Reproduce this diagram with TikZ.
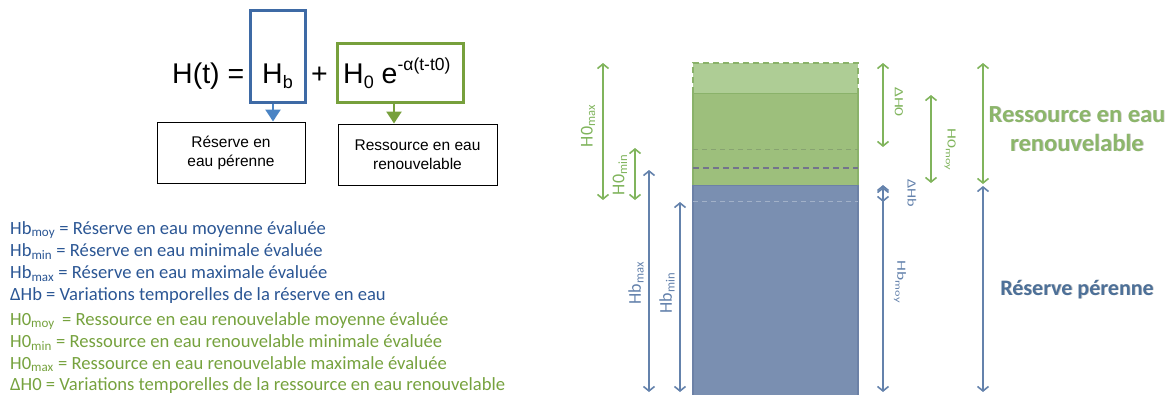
\documentclass[tikz,border=0pt]{standalone}
\usepackage{fontspec}
\setmainfont{Liberation Sans}
\newfontfamily\calfont{Carlito}
\usetikzlibrary{arrows.meta}

\definecolor{boxblue}{HTML}{3E6AA5}
\definecolor{arrblue}{HTML}{4A84C4}
\definecolor{boxgreen}{HTML}{77A03C}
\definecolor{txtblue}{HTML}{2B5694}
\definecolor{txtgreen}{HTML}{76A23E}
\definecolor{barlight}{HTML}{AECD95}
\definecolor{bargreen}{HTML}{9DBF7C}
\definecolor{baredge}{HTML}{8AB26A}
\definecolor{barblue}{HTML}{7A8FB1}
\definecolor{baredgeb}{HTML}{6C81A6}
\definecolor{dimgreen}{HTML}{80B45C}
\definecolor{dimblue}{HTML}{6482AC}
\definecolor{bigblue}{HTML}{4D7098}
\definecolor{biggreen}{HTML}{8CB66A}

\newcommand{\fs}[1]{\fontsize{#1}{#1}\selectfont}

\tikzset{
  formula/.style={inner sep=0pt, anchor=base west, font=\fs{28.5}},
  termbox/.style={draw, line width=3pt, inner sep=0pt},
  labelbox/.style={draw=black, line width=1pt, inner sep=0pt, align=center,
    font=\fontsize{15.5}{19}\selectfont},
  feed/.style={line width=2.5pt, -{Triangle[length=12pt,width=15pt]}},
  legend/.style={anchor=base west, inner sep=0pt, font=\calfont\fs{18.6}},
  dimg/.style={draw=dimgreen, line width=1.6pt, {Straight Barb[length=4.5pt,width=11pt]}-{Straight Barb[length=4.5pt,width=11pt]}},
  dimb/.style={draw=dimblue, line width=1.6pt, {Straight Barb[length=4.5pt,width=11pt]}-{Straight Barb[length=4.5pt,width=11pt]}},
  dimlabel/.style={inner sep=0pt, font=\calfont\fs{18}},
  smalllabel/.style={inner sep=0pt, font=\calfont\fs{12.5}},
  gcap/.style={inner sep=0pt, anchor=base, font=\calfont\bfseries\fs{24.5}},
  bcap/.style={inner sep=0pt, anchor=base, font=\calfont\bfseries\fs{22}}
}

\begin{document}
\begin{tikzpicture}[x=1pt,y=-1pt]
\useasboundingbox (0,0) rectangle (1170,394);

% ---------- formula ----------
\node[formula] (ht) at (172,83) {H(t) =};
\node[termbox, draw=boxblue, minimum width=55pt, minimum height=92pt] (hb) at (277.5,56) {};
\node[formula] (hbt) at (262,83) {H\raisebox{-5pt}{\fs{18}b}};
\node[formula] (plus) at (311,83) {+};
\node[termbox, draw=boxgreen, minimum width=126pt, minimum height=59pt] (h0) at (400,72.5) {};
\node[formula] (h0t) at (343,83) {H\raisebox{-5pt}{\fs{18}0} e\raisebox{13pt}{\fs{17.5}-α(t-t0)}};

\node[labelbox, minimum width=148pt, minimum height=61pt] (rese) at (231,152.5)
  {Réserve en\\eau pérenne};
\node[labelbox, minimum width=159pt, minimum height=61pt] (ress) at (417.5,154.5)
  {Ressource en eau\\renouvelable};

\draw[feed, draw=arrblue, fill=arrblue] ([xshift=-4.5pt]hb.south) -- ([xshift=-4.5pt]hb.south |- rese.north);
\draw[feed, draw=boxgreen, fill=boxgreen] ([xshift=-6pt]h0.south) -- ([xshift=-6pt]h0.south |- ress.north);

% ---------- legend ----------
\node[legend, text=txtblue] (l1) at (10,234) {Hb\textsubscript{moy} = Réserve en eau moyenne évaluée};
\node[legend, text=txtblue] (l2) at (10,256.5) {Hb\textsubscript{min} = Réserve en eau minimale évaluée};
\node[legend, text=txtblue] (l3) at (10,278.5) {Hb\textsubscript{max} = Réserve en eau maximale évaluée};
\node[legend, text=txtblue] (l4) at (10,300.5) {ΔHb = Variations temporelles de la réserve en eau};
\node[legend, text=txtgreen] (l5) at (10,325) {H0\textsubscript{moy} \,= Ressource en eau renouvelable moyenne évaluée};
\node[legend, text=txtgreen] (l6) at (10,347) {H0\textsubscript{min} = Ressource en eau renouvelable minimale évaluée};
\node[legend, text=txtgreen] (l7) at (10,369) {H0\textsubscript{max} = Ressource en eau renouvelable maximale évaluée};
\node[legend, text=txtgreen] (l8) at (10,390.5) {ΔH0 = Variations temporelles de la ressource en eau renouvelable};

% ---------- water column ----------
\fill[barblue] (693,185) rectangle (858,396);
\draw[baredgeb, line width=1.2pt] (693,396) -- (693,185) -- (858,185) -- (858,396);
\fill[bargreen] (693,93) rectangle (858,185);
\draw[baredge, line width=1.4pt] (693,185) -- (693,93) -- (858,93) -- (858,185);
\fill[barlight] (693,63) rectangle (858,93);
\draw[baredge, line width=1.6pt, dash pattern=on 6pt off 4pt] (693,93) -- (693,63) -- (858,63) -- (858,93);
\draw[draw=baredge!70!gray, line width=0.9pt, dash pattern=on 5pt off 4pt] (693,149) -- (858,149);
\draw[draw=gray!90!blue, line width=1.2pt, dash pattern=on 6pt off 4pt] (693,168) -- (858,168);
\draw[draw=barblue!70!white, line width=0.9pt, dash pattern=on 5pt off 4pt] (693,201) -- (858,201);

% dimension anchors
\coordinate (gmaxT) at (603,63);   \coordinate (gmaxB) at (603,200);
\coordinate (gminT) at (635,148);  \coordinate (gminB) at (635,200);
\coordinate (bmaxT) at (649,170);  \coordinate (bmaxB) at (649,392);
\coordinate (bminT) at (680,202);  \coordinate (bminB) at (680,392);
\coordinate (dgT) at (883,63);     \coordinate (dgB) at (883,147);
\coordinate (gmoyT) at (931,95);   \coordinate (gmoyB) at (931,183);
\coordinate (dbT) at (883,185);    \coordinate (dbB) at (883,202);
\coordinate (bmoyT) at (883,187);  \coordinate (bmoyB) at (883,392);
\coordinate (rgT) at (983,63);     \coordinate (rgB) at (983,184);
\coordinate (rbT) at (983,186);    \coordinate (rbB) at (983,392);

\draw[dimg] (gmaxT) -- (gmaxB);
\draw[dimg] (gminT) -- (gminB);
\draw[dimb] (bmaxT) -- (bmaxB);
\draw[dimb] (bminT) -- (bminB);
\draw[dimg] (dgT) -- (dgB);
\draw[dimg] (gmoyT) -- (gmoyB);
\draw[dimb] (dbT) -- (dbB);
\draw[dimb] (bmoyT) -- (bmoyB);
\draw[dimg] (rgT) -- (rgB);
\draw[dimb] (rbT) -- (rbB);

\node[dimlabel, text=dimgreen, rotate=90] (lgmax) at (588,126) {H0\textsubscript{max}};
\node[dimlabel, text=dimgreen, rotate=90] (lgmin) at (620,175) {H0\textsubscript{min}};
\node[dimlabel, text=dimblue, rotate=90] (lbmax) at (636,283) {Hb\textsubscript{max}};
\node[dimlabel, text=dimblue, rotate=90] (lbmin) at (667,293) {Hb\textsubscript{min}};
\node[smalllabel, text=dimgreen, rotate=-90] (ldg) at (899,102) {\scalebox{1.4}[1]{ΔH0}};
\node[smalllabel, text=dimgreen, rotate=-90] (lgmoy) at (950,150) {\scalebox{1.4}[1]{H0\textsubscript{moy}}};
\node[smalllabel, text=dimblue, rotate=-90] (ldb) at (912,193) {\scalebox{1.3}[1]{ΔHb}};
\node[smalllabel, text=dimblue, rotate=-90] (lbmoy) at (900,282) {\scalebox{1.4}[1]{Hb\textsubscript{moy}}};

% zone captions with a soft shadow
\node[gcap, text=black!22] at (1077.8,122.8) {Ressource en eau};
\node[gcap, text=biggreen] (capg1) at (1077,122) {Ressource en eau};
\node[gcap, text=black!22] at (1077.8,151.8) {renouvelable};
\node[gcap, text=biggreen] (capg2) at (1077,151) {renouvelable};
\node[bcap, text=black!22] at (1077.8,295.8) {Réserve pérenne};
\node[bcap, text=bigblue] (capb) at (1077,295) {Réserve pérenne};
\end{tikzpicture}
\end{document}
